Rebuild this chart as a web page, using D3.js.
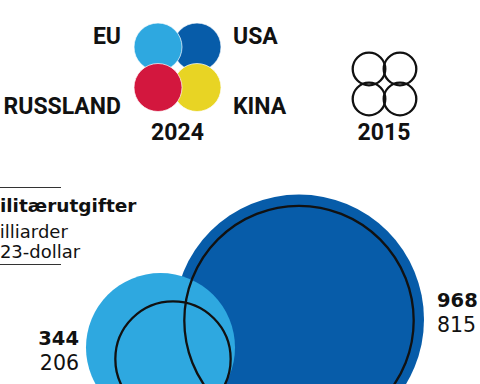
<!DOCTYPE html>
<html>
<head>
<meta charset="utf-8">
<script src="https://cdn.jsdelivr.net/npm/d3@7"></script>
<style>
  body { margin: 0; background: #fff; }
  svg { display: block; }
  .lbl { font-family: Roboto, "Liberation Sans", sans-serif; font-weight: bold; font-size: 23px; fill: #111; }
  .txt { font-family: "DejaVu Sans", sans-serif; fill: #111; }
</style>
</head>
<body>
<svg id="chart" width="480" height="384"></svg>
<script>
// Military spending, billions of 2023 dollars

var countries = ["EU", "USA", "RUSSLAND", "KINA"];
var countryColors = ["#2ea8e0", "#075ca9", "#d3173e", "#e8d424"];
var years = ["2024", "2015"];

// only EU and USA bubbles are visible in this crop
var bubbleCountries = ["EU", "USA"];
var spend2024 = [344, 968];
var spend2015 = [206, 815];

var titleLines = ["Militærutgifter", "i milliarder", "2023-dollar"];

// layout (kept apart from the data)
var legendPos = {
    EU: [158, 47], USA: [197, 47], RUSSLAND: [158, 87.5], KINA: [197, 87.5]
};
var bubbleCenter = {
    "2024": { EU: [160.5, 347.5], USA: [299, 319.5] },
    "2015": { EU: [173, 359], USA: [299, 320.5] }
};

var $svg = d3.select("#chart");

var color = d3.scaleOrdinal().domain(countries).range(countryColors);
var r = d3.scaleSqrt().domain([0, 968]).range([0, 125]);

// ---- legend: 2024 coloured circles
var $legend = $svg.append("g");
var drawOrder = ["USA", "EU", "KINA", "RUSSLAND"];
$legend.selectAll("circle")
    .data(drawOrder)
    .enter().append("circle")
    .attr("cx", d => legendPos[d][0])
    .attr("cy", d => legendPos[d][1])
    .attr("r", 24)
    .attr("fill", d => color(d))
    .attr("stroke", "#fff")
    .attr("stroke-width", 0.7);

// labels left/right of circles
var labelX = { EU: 121, RUSSLAND: 121, USA: 233, KINA: 233 };
var labelY = { EU: 44, USA: 44, RUSSLAND: 113.5, KINA: 113.5 };
$legend.selectAll("text.country")
    .data(countries)
    .enter().append("text")
    .attr("class", "lbl country")
    .attr("x", d => labelX[d])
    .attr("y", d => labelY[d])
    .attr("text-anchor", d => (d == "EU" || d == "RUSSLAND") ? "end" : "start")
    .text(d => d);

$legend.append("text")
    .attr("class", "lbl")
    .attr("x", 177.5).attr("y", 140)
    .attr("text-anchor", "middle")
    .text(years[0]);

// ---- legend: 2015 outline circles
var outlineOffsets = [[-15.5, -15], [15.5, -15], [-15.5, 15], [15.5, 15]];
$legend.selectAll("circle.outline")
    .data(outlineOffsets)
    .enter().append("circle")
    .attr("class", "outline")
    .attr("cx", d => 384.5 + d[0])
    .attr("cy", d => 84 + d[1])
    .attr("r", 16.3)
    .attr("fill", "none")
    .attr("stroke", "#111")
    .attr("stroke-width", 2.3);

$legend.append("text")
    .attr("class", "lbl")
    .attr("x", 384).attr("y", 140)
    .attr("text-anchor", "middle")
    .text(years[1]);

// ---- title block with rules
var $title = $svg.append("g");
$title.append("line").attr("x1", 0).attr("x2", 61).attr("y1", 187.5).attr("y2", 187.5)
    .attr("stroke", "#333").attr("stroke-width", 1);
$title.append("line").attr("x1", 0).attr("x2", 61).attr("y1", 264.5).attr("y2", 264.5)
    .attr("stroke", "#333").attr("stroke-width", 1);
// lines start left of the visible area (crop)
var titleY = [212, 237.5, 258];
var titleX = [-18.5, -28.5, -23];
$title.selectAll("text")
    .data(titleLines)
    .enter().append("text")
    .attr("class", "txt")
    .attr("x", (d, i) => titleX[i])
    .attr("y", (d, i) => titleY[i])
    .attr("font-size", (d, i) => i == 0 ? 18.5 : 18)
    .attr("font-weight", (d, i) => i == 0 ? "bold" : "normal")
    .text(d => d);

// ---- bubbles
var bubbles = bubbleCountries.map((c, i) => ({ country: c, v24: spend2024[i], v15: spend2015[i] }));
var fillOrder = bubbles.slice().sort((a, b) => b.v24 - a.v24);

var $bubbles = $svg.append("g");
$bubbles.selectAll("circle.fill")
    .data(fillOrder)
    .enter().append("circle")
    .attr("class", "fill")
    .attr("cx", d => bubbleCenter["2024"][d.country][0])
    .attr("cy", d => bubbleCenter["2024"][d.country][1])
    .attr("r", d => r(d.v24))
    .attr("fill", d => color(d.country));

$bubbles.selectAll("circle.line")
    .data(fillOrder)
    .enter().append("circle")
    .attr("class", "line")
    .attr("cx", d => bubbleCenter["2015"][d.country][0])
    .attr("cy", d => bubbleCenter["2015"][d.country][1])
    .attr("r", d => r(d.v15))
    .attr("fill", "none")
    .attr("stroke", "#111")
    .attr("stroke-width", 2.3);

// value labels
var valuePos = { EU: [79, 345, "end"], USA: [437, 307, "start"] };
bubbles.forEach(function(d) {
    let p = valuePos[d.country];
    $bubbles.append("text").attr("class", "txt")
        .attr("x", p[0]).attr("y", p[1])
        .attr("text-anchor", p[2])
        .attr("font-size", 19.5).attr("font-weight", "bold")
        .text(d.v24);
    $bubbles.append("text").attr("class", "txt")
        .attr("x", p[0]).attr("y", p[1] + 25)
        .attr("text-anchor", p[2])
        .attr("font-size", 20.5)
        .text(d.v15);
});
</script>
</body>
</html>
